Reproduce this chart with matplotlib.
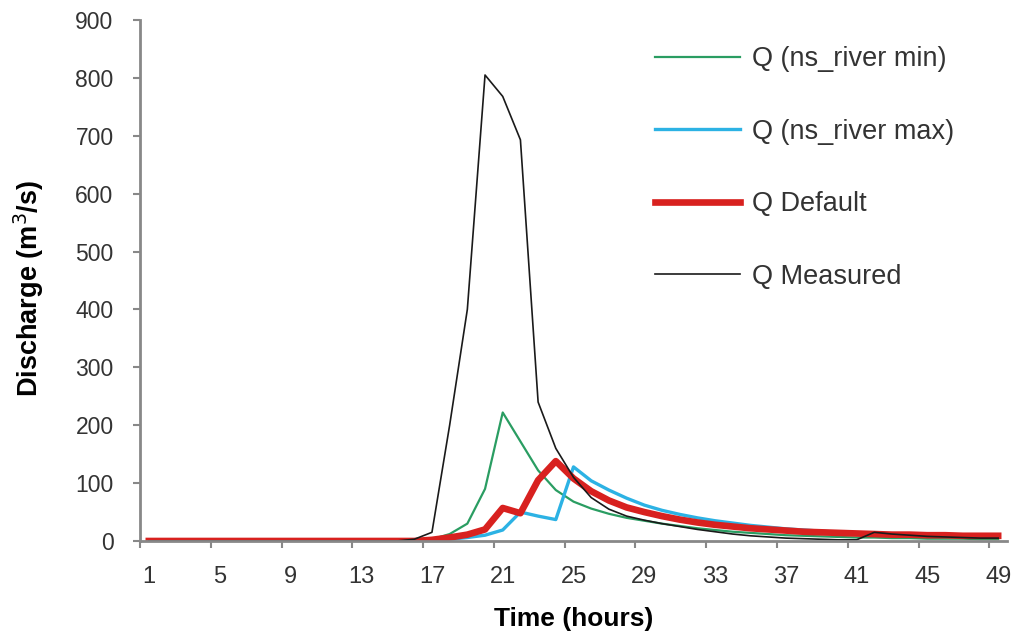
import numpy as np
import matplotlib
matplotlib.use('Agg')
import matplotlib.pyplot as plt

plt.rcParams['font.family'] = ['Liberation Sans', 'DejaVu Sans']

# hours 1..49
hours = list(range(1, 50))

# Q (ns_river min)
q_min = [0] * 16 + [3, 12, 30, 90, 222, 172, 122, 88, 68, 56, 47, 40, 35, 30,
                    26, 22, 19, 16, 14, 12, 10, 9, 8, 7, 6, 6, 5, 5, 4, 4, 4, 3, 3]
# Q (ns_river max)
q_max = [0] * 16 + [1, 3, 6, 10, 19, 50, 43, 37, 128, 104, 88, 74, 62, 53,
                    46, 40, 35, 31, 27, 24, 21, 19, 17, 15, 13, 12, 11, 10, 9, 8, 8, 7, 7]
# Q Default
q_default = [0] * 16 + [2, 6, 11, 20, 57, 48, 105, 138, 108, 86, 70, 58, 50, 43,
                        37, 32, 28, 25, 22, 20, 18, 16, 15, 14, 13, 12, 11, 11, 10, 10, 9, 9, 9]
# Q Measured
q_meas = [0] * 15 + [3, 15, 200, 400, 805, 768, 693, 240, 160, 110, 75, 55, 43, 36, 30,
                     25, 20, 16, 12, 9, 7, 5, 4, 3, 2, 2, 15, 12, 10, 8, 7, 6, 5, 5]

fig = plt.figure(figsize=(10.16, 6.38), dpi=100)
ax = fig.add_axes([140 / 1016, 97 / 638, 867 / 1016, 521 / 638])

ax.plot(hours, q_min, color='#2a9d62', lw=1.6, label='Q (ns_river min)')
ax.plot(hours, q_max, color='#2cb2e4', lw=2.4, label='Q (ns_river max)')
ax.plot(hours, q_default, color='#d8211f', lw=4.8, label='Q Default', solid_joinstyle='round')
ax.plot(hours, q_meas, color='#1a1a1a', lw=1.2, label='Q Measured')

ax.set_xlim(0.5, 49.5)
ax.set_ylim(0, 900)

for s in ['top', 'right']:
    ax.spines[s].set_visible(False)
for s in ['left', 'bottom']:
    ax.spines[s].set_color('#888888')
    ax.spines[s].set_linewidth(2)

# y ticks
ax.set_yticks(range(0, 901, 100))
ax.tick_params(axis='y', length=5, width=1.5, color='#888888', pad=14,
               labelsize=16.5, labelcolor='#333333')

# x: tick marks at category boundaries, labels at category centres
ax.set_xticks(np.arange(0.5, 49, 4))
ax.set_xticklabels([])
ax.tick_params(axis='x', which='major', length=5, width=1.5, color='#888888')
ax.set_xticks(hours[::4], minor=True)
ax.set_xticklabels([str(h) for h in hours[::4]], minor=True)
ax.tick_params(axis='x', which='minor', length=0, pad=18, labelsize=17,
               labelcolor='#333333')

ax.set_xlabel('Time (hours)', fontsize=19, fontweight='bold')
ax.set_ylabel('Discharge (m$^3$/s)', fontsize=19.5, fontweight='bold')
ax.xaxis.set_label_coords(0.5, -0.127)
ax.yaxis.set_label_coords(-0.108, 0.485)

fig.legend(loc='upper left', bbox_to_anchor=(655 / 1016, 1 - 46 / 638),
           frameon=False, fontsize=19.5, handlelength=3.15, handletextpad=0.45,
           labelspacing=1.72, borderpad=0, borderaxespad=0, labelcolor='#333333')

fig.savefig('out.png', dpi=100)
